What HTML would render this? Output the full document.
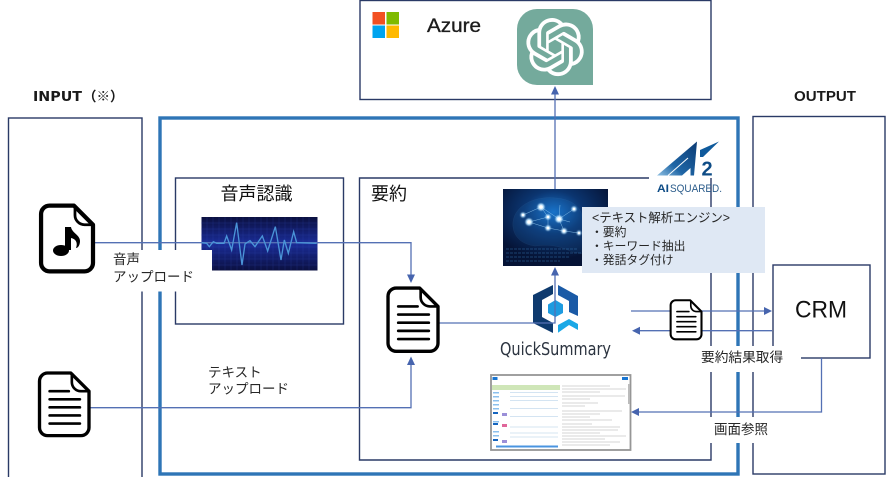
<!DOCTYPE html>
<html lang="ja"><head><meta charset="utf-8"><title>QuickSummary diagram</title>
<style>
html,body{margin:0;padding:0;background:#fff;width:886px;height:477px;overflow:hidden}
svg{display:block}
text{font-family:"Liberation Sans","Noto Sans CJK JP",sans-serif;fill:#262626}
</style></head><body>
<svg width="886" height="477" viewBox="0 0 886 477" xmlns="http://www.w3.org/2000/svg">
<defs>
<linearGradient id="wave" x1="0" y1="0" x2="0" y2="1"><stop offset="0" stop-color="#0b1040"/><stop offset=".5" stop-color="#1a2c98"/><stop offset="1" stop-color="#0b1040"/></linearGradient>
<radialGradient id="brain" cx=".48" cy=".3" r=".62"><stop offset="0" stop-color="#1670c8"/><stop offset=".45" stop-color="#0b3570"/><stop offset="1" stop-color="#051335"/></radialGradient>
<linearGradient id="a2" x1="0" y1="1" x2="1" y2="0"><stop offset="0" stop-color="#8fc0e2"/><stop offset=".35" stop-color="#1f66a6"/><stop offset="1" stop-color="#0b3b74"/></linearGradient>
<filter id="glow" x="-50%" y="-50%" width="200%" height="200%"><feGaussianBlur stdDeviation=".9"/></filter>
<g id="doc">
<path d="M9 2H32L50 20V56a8 8 0 0 1-8 8H9a8 8 0 0 1-8-8V10a8 8 0 0 1 8-8Z" fill="#fff" stroke="#000" stroke-width="3.300" stroke-linejoin="round"/>
<path d="M33 2V11a9 9 0 0 0 9 9H50" fill="none" stroke="#000" stroke-width="2.600"/>
<path d="M11 20H30M11 28H41M11 36H41M11 44H41M11 52H41" stroke="#000" stroke-width="2.600" stroke-linecap="round"/>
</g>
</defs>

<!-- boxes -->
<g fill="none" stroke="#2a3a66" stroke-width="1.4">
<rect x="8.500" y="118" width="133.500" height="362"/>
<rect x="360" y="0.500" width="351" height="99"/>
<rect x="753" y="116.500" width="132" height="357.500"/>
<rect x="175.500" y="178" width="168" height="146"/>
<path d="M649 178H359.500V460H711V178"/>
</g>
<rect x="160" y="118" width="578" height="356" fill="none" stroke="#2e75b6" stroke-width="3.400"/>
<rect x="773" y="265" width="97" height="93" fill="#fff" stroke="#2a3a66" stroke-width="1.400"/>

<!-- Azure -->
<rect x="372.500" y="12" width="12.500" height="12.500" fill="#f25022"/>
<rect x="386.500" y="12" width="12.500" height="12.500" fill="#7fba00"/>
<rect x="372.500" y="25.500" width="12.500" height="12.500" fill="#00a4ef"/>
<rect x="386.500" y="25.500" width="12.500" height="12.500" fill="#ffb900"/>
<text x="427" y="32" font-size="19.500" style="fill:#1c1c1c;stroke:#1c1c1c;stroke-width:.35" textLength="54" lengthAdjust="spacingAndGlyphs">Azure</text>
<path d="M537 9H573a20 20 0 0 1 20 20V85H537a20 20 0 0 1-20-20V29a20 20 0 0 1 20-20Z" fill="#74aa9c"/>
<path transform="translate(526 18) scale(2.420)" fill="#fff" d="M22.2819 9.8211a5.9847 5.9847 0 0 0-.5157-4.9108 6.0462 6.0462 0 0 0-6.5098-2.9A6.0651 6.0651 0 0 0 4.9807 4.1818a5.9847 5.9847 0 0 0-3.9977 2.9 6.0462 6.0462 0 0 0 .7427 7.0966 5.98 5.98 0 0 0 .511 4.9107 6.051 6.051 0 0 0 6.5146 2.9001A5.9847 5.9847 0 0 0 13.2599 24a6.0557 6.0557 0 0 0 5.7718-4.2058 5.9894 5.9894 0 0 0 3.9977-2.9001 6.0557 6.0557 0 0 0-.7475-7.0729zm-9.022 12.6081a4.4755 4.4755 0 0 1-2.8764-1.0408l.1419-.0804 4.7783-2.7582a.7948.7948 0 0 0 .3927-.6813v-6.7369l2.02 1.1686a.071.071 0 0 1 .038.052v5.5826a4.504 4.504 0 0 1-4.4945 4.4944zm-9.6607-4.1254a4.4708 4.4708 0 0 1-.5346-3.0137l.142.0852 4.783 2.7582a.7712.7712 0 0 0 .7806 0l5.8428-3.3685v2.3324a.0804.0804 0 0 1-.0332.0615L9.74 19.9502a4.4992 4.4992 0 0 1-6.1408-1.6464zM2.3408 7.8956a4.485 4.485 0 0 1 2.3655-1.9728V11.6a.7664.7664 0 0 0 .3879.6765l5.8144 3.3543-2.0201 1.1685a.0757.0757 0 0 1-.071 0l-4.8303-2.7865A4.504 4.504 0 0 1 2.3408 7.872zm16.5963 3.8558L13.1038 8.364 15.1192 7.2a.0757.0757 0 0 1 .071 0l4.8303 2.7913a4.4944 4.4944 0 0 1-.6765 8.1042v-5.6772a.79.79 0 0 0-.407-.667zm2.0107-3.0231l-.142-.0852-4.7735-2.7818a.7759.7759 0 0 0-.7854 0L9.409 9.2297V6.8974a.0662.0662 0 0 1 .0284-.0615l4.8303-2.7866a4.4992 4.4992 0 0 1 6.6802 4.66zM8.3065 12.863l-2.02-1.1638a.0804.0804 0 0 1-.038-.0567V6.0742a4.4992 4.4992 0 0 1 7.3757-3.4537l-.142.0805L8.704 5.459a.7948.7948 0 0 0-.3927.6813zm1.0976-2.3654l2.602-1.4998 2.6069 1.4998v2.9994l-2.5974 1.4997-2.6067-1.4997Z"/>

<!-- headers -->
<text x="33" y="101" font-size="13.500" style="font-weight:bold;fill:#1a1a1a;font-family:'DejaVu Sans','Noto Sans CJK JP',sans-serif" textLength="49" lengthAdjust="spacingAndGlyphs">INPUT</text>
<text x="83" y="101" font-size="13.500" style="font-weight:bold;fill:#1a1a1a">（※）</text>
<text x="794" y="101" font-size="14.500" style="font-weight:bold;fill:#1a1a1a" textLength="62" lengthAdjust="spacingAndGlyphs">OUTPUT</text>

<!-- wave image -->
<rect x="201.500" y="217" width="116" height="53.500" fill="url(#wave)"/>
<g stroke="#3a55c8" stroke-width=".4" opacity=".4">
<path d="M207 217V270M213 217V270M219 217V270M225 217V270M231 217V270M237 217V270M243 217V270M249 217V270M255 217V270M261 217V270M267 217V270M273 217V270M279 217V270M285 217V270M291 217V270M297 217V270M303 217V270M309 217V270"/>
<path d="M201 223H317M201 229H317M201 235H317M201 241H317M201 247H317M201 253H317M201 259H317M201 265H317"/>
</g>

<!-- brain image -->
<rect x="503" y="189" width="105" height="77" fill="url(#brain)"/>
<path d="M513 222C515 205 535 196 555 198C572 199 584 208 582 222C581 232 590 240 584 254L572 252C560 246 550 244 535 246C520 244 512 235 513 222Z" fill="#2a88d8" opacity=".12" stroke="#7cc0f0" stroke-width=".5"/>
<g stroke="#9ed4f8" stroke-width=".4" fill="none"><path d="M541 207L559 219L574 209M529 222L548 217L548 228L564 231L579 233M559 219L564 231M529 222L548 228M541 207L548 217M560 205L559 219L570 222M523 215L541 207"/></g>
<g fill="#bfe6ff" filter="url(#glow)">
<circle cx="541" cy="207" r="3.500"/><circle cx="523" cy="215" r="2.400"/><circle cx="529" cy="222" r="3.500"/>
<circle cx="548" cy="217" r="2.500"/><circle cx="559" cy="219" r="3.500"/><circle cx="574" cy="209" r="2.500"/>
<circle cx="548" cy="228" r="2.600"/><circle cx="564" cy="231" r="2.800"/><circle cx="579" cy="233" r="2.200"/>
</g>
<g fill="#fff">
<circle cx="541" cy="207" r="1.800"/><circle cx="523" cy="215" r="1.200"/><circle cx="529" cy="222" r="1.800"/>
<circle cx="548" cy="217" r="1.200"/><circle cx="559" cy="219" r="1.800"/><circle cx="574" cy="209" r="1.200"/>
<circle cx="548" cy="228" r="1.300"/><circle cx="564" cy="231" r="1.400"/><circle cx="579" cy="233" r="1.100"/>
</g>
<path d="M506 249H578M506 253H582M506 257H570M506 261H560" stroke="#3e86c6" stroke-width="1" opacity=".4" stroke-dasharray="3 1"/>

<!-- AI squared logo -->
<path d="M657 175.500L697 141.500L694 175.500Z" fill="url(#a2)"/>
<path d="M682 175.500L690.500 168V175.500Z" fill="#fff"/>
<path d="M668 175.500L688 158" stroke="#fff" stroke-width="1"/>
<path d="M700 150L719 141.500L703 157L700 157Z" fill="#0f5a9c"/>
<text x="701.500" y="175.500" font-size="20" style="font-weight:bold;fill:#0e4c86">2</text>
<text x="657" y="192" font-size="11" style="font-weight:bold;fill:#0e4c86" textLength="12" lengthAdjust="spacingAndGlyphs">AI</text>
<text x="670" y="192" font-size="11" style="fill:#2a5b8a" textLength="52" lengthAdjust="spacingAndGlyphs">SQUARED.</text>

<!-- QuickSummary logo -->
<path d="M553 285L533 295V323L553 333V323L542 317V300L553 294Z" fill="#0e3a6e"/>
<path d="M558 285L578 296V316L569 312V301L558 295Z" fill="#1a5aa6"/>
<path d="M555.500 300L563 304.500V313L555.500 317L548 313V304.500Z" fill="#1d9be0"/>
<path d="M558 325L569 319L578 324V330L569 325L558 332.700Z" fill="#1aa8e6"/>
<text x="500" y="355" font-size="17.500" style="fill:#2c3440;font-family:'DejaVu Sans',sans-serif" textLength="111" lengthAdjust="spacingAndGlyphs">QuickSummary</text>

<!-- connectors -->
<g fill="none" stroke="#5470b4" stroke-width="1.300">
<path d="M95 242.700H411V275"/>
<path d="M90 407.700H411V364"/>
<path d="M439 323H555V274"/>
<path d="M555 189V94"/>
<path d="M631 311H766"/>
<path d="M772 330.700H640"/>
<path d="M821.500 358V412H638"/>
</g>
<g fill="#4664ae">
<path d="M411 283L407 274.500H415Z"/>
<path d="M411 356.500L407 365H415Z"/>
<path d="M555 267L551 275.500H559Z"/>
<path d="M555 86L551 94.500H559Z"/>
<path d="M772 311L764 307V315Z"/>
<path d="M632 330.700L640 326.700V334.700Z"/>
<path d="M631 412L639 408V416Z"/>
</g>

<!-- wave trace -->
<g transform="translate(0 170) scale(.33333)">
<polyline fill="none" stroke="#4a94d8" stroke-width="4" points="605,218 620,220 628,230 640,215 650,220 672,220 680,198 695,240 710,158 726,285 735,222 750,212 765,230 787,198 803,243 826,170 843,270 853,210 865,250 881,185 890,218 950,220"/>
</g>

<!-- file icons -->
<g transform="translate(40 203.500) scale(1.060)">
<path d="M9 2H32L50 20V56a8 8 0 0 1-8 8H9a8 8 0 0 1-8-8V10a8 8 0 0 1 8-8Z" fill="#fff" stroke="#000" stroke-width="4" stroke-linejoin="round"/>
<path d="M33 2V11a9 9 0 0 0 9 9H50" fill="none" stroke="#000" stroke-width="2.600"/>
</g>
<ellipse cx="61" cy="250.500" rx="8" ry="5.500" fill="#000"/>
<path d="M65 250V227H71C72 233 80 235 80 241C80 245 78 248 76 248C78 243 76 239 71 238V250Z" fill="#000"/>
<use href="#doc" transform="translate(38.500 371) scale(1.010)"/>
<use href="#doc" transform="translate(387 286) scale(1.020)"/>
<use href="#doc" transform="translate(670 299) scale(.63)"/>

<!-- white labels -->
<rect x="112" y="250" width="100" height="41.500" fill="#fff"/>
<rect x="697" y="346" width="104" height="26" fill="#fff"/>
<rect x="697" y="417" width="104" height="26" fill="#fff"/>

<!-- labels -->
<text x="220.500" y="200" font-size="18" style="fill:#111">音声認識</text>
<text x="371" y="200" font-size="18" style="fill:#111">要約</text>
<text x="113" y="264" font-size="13.500">音声</text>
<text x="113" y="281.500" font-size="13.500">アップロード</text>
<text x="208" y="377" font-size="13.500">テキスト</text>
<text x="208" y="393.500" font-size="13.500">アップロード</text>
<text x="795" y="317.500" font-size="24" style="fill:#111" textLength="52" lengthAdjust="spacingAndGlyphs">CRM</text>
<text x="701" y="362" font-size="13.700">要約結果取得</text>
<text x="714" y="434" font-size="13.500">画面参照</text>

<!-- engine note -->
<rect x="582" y="207" width="183" height="66" fill="#dfe8f4"/>
<text x="592" y="222" font-size="12.500" textLength="138" lengthAdjust="spacingAndGlyphs">&lt;テキスト解析エンジン&gt;</text>
<text x="591" y="236" font-size="11.800">・要約</text>
<text x="591" y="250" font-size="11.800">・キーワード抽出</text>
<text x="591" y="264" font-size="11.800">・発話タグ付け</text>

<!-- screenshot -->
<rect x="491" y="375" width="139.500" height="75" fill="#fff" stroke="#969696" stroke-width="1.800"/>
<rect x="492.500" y="377" width="5" height="3" fill="#1976d2"/>
<rect x="622" y="377" width="6" height="3" fill="#1976d2"/>
<rect x="492" y="385" width="68" height="5" fill="#cfe6b8"/>
<g fill="#8cc0ee">
<rect x="493" y="392" width="6" height="1.500"/><rect x="493" y="396" width="6" height="1.500"/><rect x="493" y="400" width="6" height="1.500"/><rect x="493" y="404" width="6" height="1.500"/><rect x="493" y="408" width="6" height="1.500"/><rect x="493" y="421" width="6" height="1.500"/><rect x="493" y="431" width="6" height="1.500"/><rect x="493" y="435" width="6" height="1.500"/>
</g>
<rect x="496" y="445.500" width="62" height="2" fill="#4a94e0"/>
<g fill="#1565c0"><rect x="493" y="412" width="5" height="2"/><rect x="493" y="423" width="5" height="2"/><rect x="493" y="439" width="5" height="2"/></g>
<rect x="502" y="413" width="5" height="3" fill="#9b8fd8"/><rect x="502" y="424" width="5" height="3" fill="#e0669a"/><rect x="502" y="440" width="5" height="3" fill="#9b8fd8"/>
<g stroke="#d4e4f2" stroke-width="1"><path d="M510 392.500H558M510 396.500H558M510 400.500H558M510 408.500H558M510 416.500H558M510 427H558M510 433H558M510 437H558"/></g>
<g stroke="#c6c6c6" stroke-width=".8"><path d="M562 386H610M562 389H626M562 392H600M562 396H625M562 399H590M562 403H598M562 406H585M562 411H622M562 414H600M562 417H590M562 420H612M562 424H592M562 427H620M562 430H618M562 433H600M562 436H626M562 439H605M562 442H620M562 445H610"/></g>
<rect x="628" y="384" width="2" height="20" fill="#bbb"/>
</svg>
</body></html>
